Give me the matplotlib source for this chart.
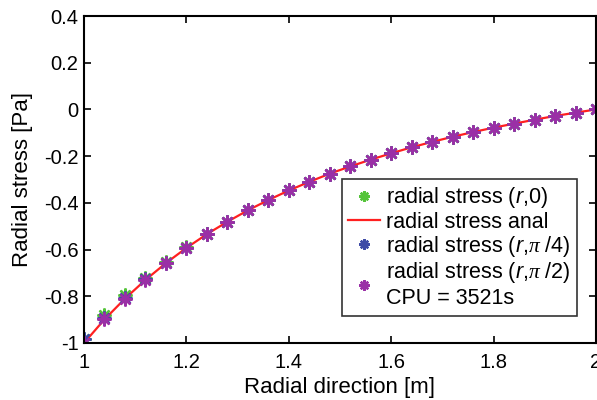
import matplotlib
matplotlib.use("Agg")
import matplotlib.pyplot as plt

plt.rcParams['font.family'] = ['Liberation Sans', 'DejaVu Sans']
plt.rcParams['mathtext.fontset'] = 'custom'
plt.rcParams['mathtext.rm'] = 'Liberation Sans'
plt.rcParams['mathtext.it'] = 'Liberation Sans:italic'
plt.rcParams['mathtext.sf'] = 'Liberation Serif:italic'
plt.rcParams['mathtext.cal'] = 'Liberation Sans'

# Radial positions of the sampled nodes [m]
r = [1.00, 1.04, 1.08, 1.12, 1.16, 1.20, 1.24, 1.28, 1.32, 1.36, 1.40, 1.44, 1.48,
     1.52, 1.56, 1.60, 1.64, 1.68, 1.72, 1.76, 1.80, 1.84, 1.88, 1.92, 1.96, 2.00]

# Analytical radial stress [Pa]
sigma_anal = [-1.000, -0.899, -0.810, -0.730, -0.658, -0.593, -0.534, -0.481, -0.432,
              -0.388, -0.347, -0.310, -0.275, -0.244, -0.215, -0.188, -0.162, -0.139,
              -0.117, -0.097, -0.078, -0.061, -0.044, -0.028, -0.014, 0.000]

# Numerical radial stress along theta = 0, pi/4, pi/2 [Pa]
sigma_0 = [-0.985, -0.882, -0.796, -0.722, -0.654, -0.591, -0.533, -0.480, -0.432,
           -0.388, -0.347, -0.310, -0.275, -0.244, -0.215, -0.188, -0.162, -0.139,
           -0.117, -0.097, -0.078, -0.061, -0.044, -0.028, -0.014, 0.000]
sigma_pi4 = [-0.985, -0.893, -0.806, -0.728, -0.657, -0.592, -0.534, -0.481, -0.432,
             -0.388, -0.347, -0.310, -0.275, -0.244, -0.215, -0.188, -0.162, -0.139,
             -0.117, -0.097, -0.078, -0.061, -0.044, -0.028, -0.014, 0.000]
sigma_pi2 = [-0.998, -0.899, -0.810, -0.730, -0.658, -0.593, -0.534, -0.481, -0.432,
             -0.388, -0.347, -0.310, -0.275, -0.244, -0.215, -0.188, -0.162, -0.139,
             -0.117, -0.097, -0.078, -0.061, -0.044, -0.028, -0.014, 0.000]

xticks = [1, 1.2, 1.4, 1.6, 1.8, 2]
xticklabels = ['1', '1.2', '1.4', '1.6', '1.8', '2']
yticks = [-1, -0.8, -0.6, -0.4, -0.2, 0, 0.2, 0.4]
yticklabels = ['-1', '-0.8', '-0.6', '-0.4', '-0.2', '0', '0.2', '0.4']

fig = plt.figure(figsize=(5.97, 4.0), dpi=100)
ax = fig.add_axes([0.1407, 0.1425, 0.8576, 0.8175])

star = (8, 2, 0)
mk = dict(linestyle='none', marker=star, markersize=10, markeredgewidth=1.7)
ax.plot(r, sigma_0, color='#55c43a', label='radial stress ($r$,0)', **mk)
ax.plot(r, sigma_anal, color='#ff2020', linewidth=1.6, label='radial stress anal')
ax.plot(r, sigma_pi4, color='#3d4aa6', label=r'radial stress ($r$,$\mathsf{\pi}$ /4)', **mk)
ax.plot(r, sigma_pi2, color='#9a2fa6',
        label='radial stress ($r$,$\\mathsf{\\pi}$ /2)\nCPU = 3521s', **mk)

ax.set_xlim(1, 2)
ax.set_ylim(-1, 0.4)
ax.set_xticks(xticks)
ax.set_xticklabels(xticklabels)
ax.set_yticks(yticks)
ax.set_yticklabels(yticklabels)
ax.tick_params(direction='in', length=5, width=1.2, top=True, right=True,
               labelsize=14.5)
ax.tick_params(axis='x', pad=7)
ax.tick_params(axis='y', pad=4)
for s in ax.spines.values():
    s.set_linewidth(1.5)

ax.set_xlabel('Radial direction [m]', fontsize=16, labelpad=4)
ax.set_ylabel('Radial stress [Pa]', fontsize=16, labelpad=8)

leg = ax.legend(loc='lower right', bbox_to_anchor=(0.963, 0.083), borderaxespad=0,
                fontsize=15.5, frameon=True, fancybox=False, handlelength=1.45,
                handletextpad=0.3, labelspacing=0.06, borderpad=0.3,
                markerscale=0.75)
leg.get_frame().set_edgecolor('black')
leg.get_frame().set_linewidth(1.2)

fig.savefig('out.png', dpi=100)
